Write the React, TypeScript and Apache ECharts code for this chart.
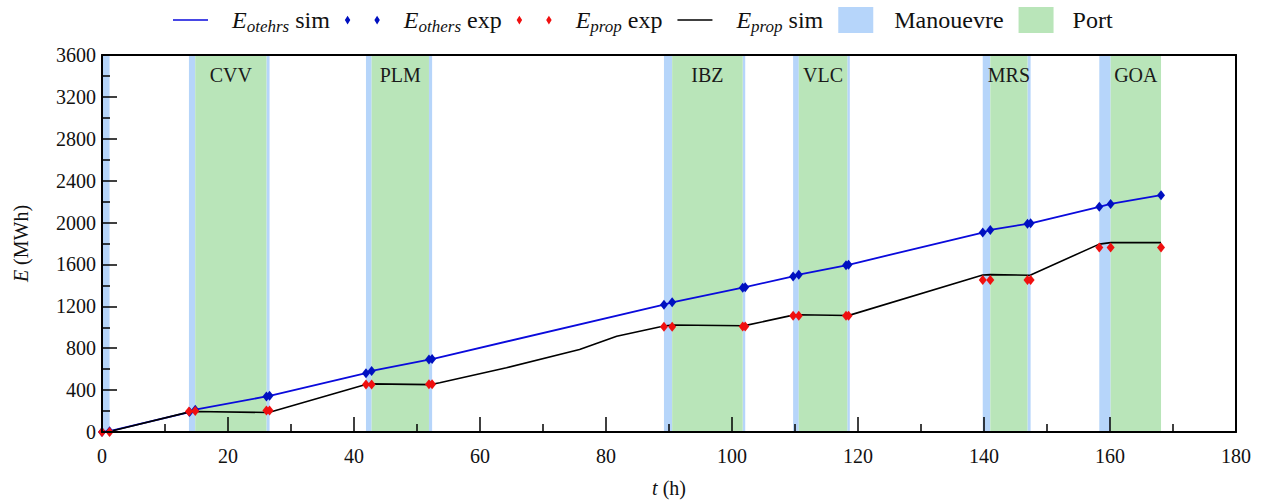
import React, { useEffect, useRef } from 'react';
import * as echarts from 'echarts';

// E_others simulation (time h, energy MWh)
const othersSimT = [0, 1.2, 13.9, 14.8, 26.1, 26.6, 41.9, 42.8, 51.9, 52.4, 89.2, 90.5, 101.7, 102.1, 109.7, 110.6, 118.1, 118.5, 139.8, 141.0, 146.9, 147.4, 158.3, 160.1, 168.1];
const othersSimE = [0, 8, 190, 213, 340, 345, 562, 583, 692, 697, 1216, 1238, 1378, 1383, 1486, 1502, 1592, 1597, 1905, 1930, 1988, 1993, 2150, 2178, 2261];

// E_others experimental
const othersExpT = [0, 1.2, 13.9, 14.8, 26.1, 26.6, 41.9, 42.8, 51.9, 52.4, 89.2, 90.5, 101.7, 102.1, 109.7, 110.6, 118.1, 118.5, 139.8, 141.0, 146.9, 147.4, 158.3, 160.1, 168.1];
const othersExpE = [0, 8, 190, 213, 340, 345, 562, 583, 692, 697, 1216, 1238, 1378, 1383, 1486, 1502, 1592, 1597, 1905, 1930, 1988, 1993, 2150, 2178, 2261];

// E_prop experimental
const propExpT = [0, 1.2, 13.8, 14.8, 26.1, 26.6, 41.9, 42.8, 51.9, 52.4, 89.2, 90.5, 101.7, 102.1, 109.7, 110.6, 118.1, 118.5, 139.8, 141.0, 146.9, 147.4, 158.3, 160.1, 168.1];
const propExpE = [0, 0, 195, 200, 205, 205, 454, 454, 456, 456, 1004, 1004, 1008, 1008, 1111, 1111, 1111, 1111, 1451, 1451, 1451, 1451, 1762, 1762, 1762];

// E_prop simulation
const propSimT = [0, 1.2, 13.9, 14.8, 26.3, 26.6, 42.0, 42.8, 52.1, 52.4, 53.6, 64.2, 75.8, 81.7, 89.2, 90.5, 101.9, 102.2, 109.7, 110.6, 118.3, 118.7, 139.8, 141.0, 147.1, 147.4, 158.3, 160.1, 168.1];
const propSimE = [0, 5, 192, 196, 186, 188, 456, 460, 452, 456, 470, 613, 788, 914, 1012, 1022, 1014, 1018, 1116, 1120, 1112, 1116, 1499, 1503, 1497, 1500, 1794, 1808, 1808];

// Manoeuvre intervals [start, end] (h)
const manoeuvreStart = [0, 13.8, 26.1, 41.9, 51.9, 89.2, 101.7, 109.7, 118.3, 139.8, 146.9, 158.3];
const manoeuvreEnd = [1.2, 14.8, 26.6, 42.8, 52.4, 90.5, 102.1, 110.6, 118.7, 141.0, 147.4, 160.1];

// Port stays
const portNames = ['CVV', 'PLM', 'IBZ', 'VLC', 'MRS', 'GOA'];
const portStart = [14.8, 42.8, 90.5, 110.6, 141.0, 160.1];
const portEnd = [26.1, 51.9, 101.7, 118.3, 146.9, 168.1];

// Axis ticks
const xMin = 0, xMax = 180, xStep = 20;
const yMin = 0, yMax = 3600, yStep = 400;

const FONT = "'Liberation Serif', 'Times New Roman', serif";
const BLUE = '#0a0adc';
const BLUE_PT = '#0010c0';
const RED = '#f01010';
const MAN_COL = '#b6d5fa';
const PORT_COL = '#b9e5b9';

const pairs = (t: number[], e: number[]) => t.map((x, i) => [x, e[i]]);

const legendLabels: Record<string, string> = {
  'Eotehrs sim': '{e|E}{s|otehrs}{n| sim}',
  'Eothers exp': '{e|E}{s|others}{n| exp}',
  'Eprop exp': '{e|E}{s|prop}{n| exp}',
  'Eprop sim': '{e|E}{s|prop}{n| sim}',
  'Manouevre': '{n|Manouevre}',
  'Port': '{n|Port}',
};

const diamondsIcon = 'path://M0,4L2.5,0L5,4L2.5,8Z M27,4L29.5,0L32,4L29.5,8Z';
const lineIcon = 'path://M0,0H40V1.6H0Z';

export default function App() {
  const ref = useRef<HTMLDivElement>(null);
  useEffect(() => {
    const chart = echarts.init(ref.current!, null, { renderer: 'svg' });
    const hiddenAxis = {
      axisLine: { show: true, onZero: false, lineStyle: { color: '#000', width: 2 } },
      axisTick: { show: false },
      axisLabel: { show: false },
      splitLine: { show: false },
      minorTick: { show: false },
    };
    const option: any = {
      animation: false,
      backgroundColor: '#fff',
      textStyle: { fontFamily: FONT },
      grid: { left: 102, right: 27, top: 55, bottom: 71 },
      legend: {
        top: 2,
        left: 168,
        itemWidth: 35,
        itemHeight: 26,
        itemGap: 15,
        selectedMode: false,
        data: [
          { name: 'Eotehrs sim', icon: lineIcon, itemStyle: { color: BLUE } },
          { name: 'Eothers exp', icon: diamondsIcon, itemStyle: { color: BLUE_PT } },
          { name: 'Eprop exp', icon: diamondsIcon, itemStyle: { color: RED } },
          { name: 'Eprop sim', icon: lineIcon, itemStyle: { color: '#000' } },
          { name: 'Manouevre', icon: 'rect', itemStyle: { color: MAN_COL }, textStyle: { padding: [0, 0, 0, 16] } },
          { name: 'Port', icon: 'rect', itemStyle: { color: PORT_COL }, textStyle: { padding: [0, 0, 0, 14] } },
        ],
        formatter: (name: string) => legendLabels[name] || name,
        textStyle: {
          fontFamily: FONT,
          fontSize: 24,
          padding: [0, 0, 0, 19],
          rich: {
            e: { fontFamily: FONT, fontStyle: 'italic', fontSize: 24, color: '#111' },
            s: { fontFamily: FONT, fontStyle: 'italic', fontSize: 17, color: '#111', padding: [13, 0, 0, 0] },
            n: { fontFamily: FONT, fontSize: 24, color: '#111' },
          },
        },
      },
      xAxis: [
        {
          type: 'value',
          min: xMin,
          max: xMax,
          interval: xStep,
          z: 5,
          name: '{i|t} (h)',
          nameLocation: 'middle',
          nameGap: 46,
          nameTextStyle: {
            fontFamily: FONT,
            fontSize: 20,
            color: '#111',
            rich: { i: { fontFamily: FONT, fontStyle: 'italic', fontSize: 20, color: '#111' } },
          },
          axisLine: { show: true, onZero: false, lineStyle: { color: '#000', width: 2 } },
          axisTick: { show: true, inside: true, length: 15, lineStyle: { color: '#000', width: 1.5 } },
          minorTick: { show: true, splitNumber: 2, length: 8, lineStyle: { color: '#000', width: 1.5 } },
          axisLabel: { fontFamily: FONT, fontSize: 20, color: '#111', margin: 14, formatter: (v: number) => String(v) },
          splitLine: { show: false },
        },
        { type: 'value', min: xMin, max: xMax, position: 'top', z: 5, ...hiddenAxis },
      ],
      yAxis: [
        {
          type: 'value',
          min: yMin,
          max: yMax,
          interval: yStep,
          z: 5,
          name: '{i|E} (MWh)',
          nameLocation: 'middle',
          nameGap: 71,
          nameTextStyle: {
            fontFamily: FONT,
            fontSize: 20,
            color: '#111',
            rich: { i: { fontFamily: FONT, fontStyle: 'italic', fontSize: 20, color: '#111' } },
          },
          axisLine: { show: true, onZero: false, lineStyle: { color: '#000', width: 2 } },
          axisTick: { show: true, inside: true, length: 15, lineStyle: { color: '#000', width: 1.5 } },
          minorTick: { show: true, splitNumber: 2, length: 8, lineStyle: { color: '#000', width: 1.5 } },
          axisLabel: { fontFamily: FONT, fontSize: 20, color: '#111', margin: 6, formatter: (v: number) => String(v) },
          splitLine: { show: false },
        },
        { type: 'value', min: yMin, max: yMax, position: 'right', z: 5, ...hiddenAxis },
      ],
      series: [
        {
          name: 'Manouevre',
          type: 'line',
          data: [],
          color: MAN_COL,
          itemStyle: { color: MAN_COL },
          silent: true,
          markArea: {
            silent: true,
            itemStyle: { color: MAN_COL, opacity: 1 },
            label: { show: false },
            data: manoeuvreStart.map((s, i) => [{ xAxis: s }, { xAxis: manoeuvreEnd[i] }]),
          },
        },
        {
          name: 'Port',
          type: 'line',
          data: [],
          color: PORT_COL,
          itemStyle: { color: PORT_COL },
          silent: true,
          markArea: {
            silent: true,
            itemStyle: { color: PORT_COL, opacity: 1 },
            label: {
              show: true,
              position: 'insideTop',
              distance: 10,
              fontFamily: FONT,
              fontSize: 20,
              color: '#1a1a1a',
            },
            data: portStart.map((s, i) => [{ name: portNames[i], xAxis: s }, { xAxis: portEnd[i] }]),
          },
        },
        {
          name: 'Eotehrs sim',
          type: 'line',
          data: pairs(othersSimT, othersSimE),
          symbol: 'none',
          color: BLUE,
          lineStyle: { color: BLUE, width: 1.8 },
          z: 3,
        },
        {
          name: 'Eprop sim',
          type: 'line',
          data: pairs(propSimT, propSimE),
          symbol: 'none',
          color: '#000',
          lineStyle: { color: '#000', width: 1.6 },
          z: 3,
        },
        {
          name: 'Eothers exp',
          type: 'scatter',
          data: pairs(othersExpT, othersExpE),
          symbol: 'diamond',
          symbolSize: [8, 10],
          color: BLUE_PT,
          itemStyle: { color: BLUE_PT, opacity: 1 },
          z: 4,
        },
        {
          name: 'Eprop exp',
          type: 'scatter',
          data: pairs(propExpT, propExpE),
          symbol: 'diamond',
          symbolSize: [8, 10],
          color: RED,
          itemStyle: { color: RED, opacity: 1 },
          z: 4,
        },
      ],
    };
    chart.setOption(option);
    return () => chart.dispose();
  }, []);
  return (
    <div
      ref={ref}
      style={{ position: 'fixed', left: 0, top: 0, width: 1263, height: 503, background: '#fff' }}
    />
  );
}
